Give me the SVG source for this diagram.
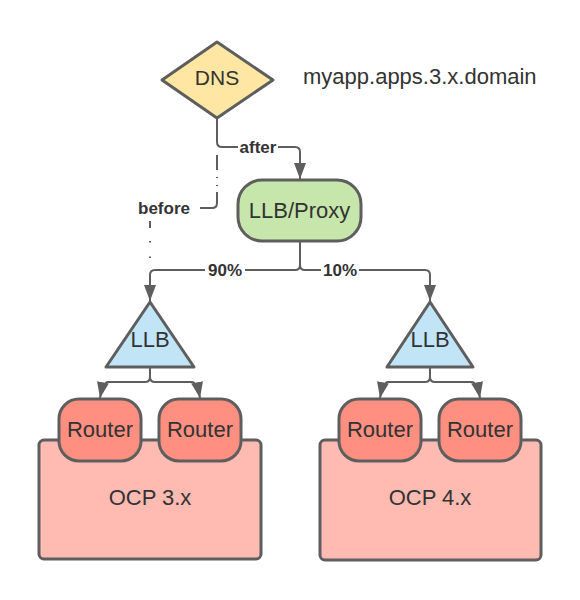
<svg xmlns="http://www.w3.org/2000/svg" width="580" height="600" viewBox="0 0 580 600">
<defs>
<style>
.node{stroke:#5e5e5e;stroke-width:3;stroke-linejoin:round}
.dns{fill:#ffe6a2}
.proxy{fill:#c7e6ab}
.llb{fill:#c1e4f7}
.router{fill:#ff8f80}
.ocp{fill:#ffbbb1}
.t{font-family:"Liberation Sans",Arial,sans-serif;font-size:22px;fill:#333333;text-anchor:middle}
.lbl{font-family:"Liberation Sans",Arial,sans-serif;font-size:17px;font-weight:bold;fill:#333333;text-anchor:middle}
.c{fill:none;stroke:#5e5e5e;stroke-width:2}
.bg{fill:#ffffff}
</style>
<marker id="arr" viewBox="0 0 16 12" refX="16" refY="6" markerWidth="16" markerHeight="12" markerUnits="userSpaceOnUse" orient="auto">
<path d="M0,0 L16,6 L0,12 Z" fill="#5e5e5e"/>
</marker>
</defs>
<rect width="580" height="600" fill="#ffffff"/>

<g id="connectors">
<path class="c" d="M150,221 V270" stroke-dasharray="7 13 1.5 14 1.5 30"/>
<path class="c" d="M217,147 V203 Q217,208 212,208 H200" stroke-dasharray="0 8 15 7 1 7 1 6 40"/>
<path class="c" d="M217,118 V142 Q217,147 222,147 H295 Q300,147 300,152 V179" marker-end="url(#arr)"/>
<path class="c" d="M300,241 V265 Q300,270 295,270 H155 Q150,270 150,275 V301" marker-end="url(#arr)"/>
<path class="c" d="M300,265 Q300,270 305,270 H425 Q430,270 430,275 V301" marker-end="url(#arr)"/>
<path class="c" d="M150,367 V377 Q150,382 145,382 H108 Q103,382 100,398" marker-end="url(#arr)"/>
<path class="c" d="M150,377 Q150,382 155,382 H192 Q197,382 200,398" marker-end="url(#arr)"/>
<path class="c" d="M430,367 V377 Q430,382 425,382 H388 Q383,382 380,398" marker-end="url(#arr)"/>
<path class="c" d="M430,377 Q430,382 435,382 H472 Q477,382 480,398" marker-end="url(#arr)"/>
<rect class="bg" x="238" y="138" width="40" height="18"/>
<text class="lbl" x="258" y="153">after</text>
<rect class="bg" x="134" y="198" width="64" height="22"/>
<text class="lbl" x="164" y="214">before</text>
<rect class="bg" x="205" y="261" width="40" height="18"/>
<text class="lbl" x="225" y="276">90%</text>
<rect class="bg" x="321" y="261" width="38" height="18"/>
<text class="lbl" x="340" y="276">10%</text>
</g>

<g id="dns">
<polygon class="node dns" points="217,42 273,80 217,118 162,80"/>
<text class="t" x="217" y="85" style="font-size:21px">DNS</text>
</g>
<g id="domain-label">
<text class="t" x="303" y="84" style="text-anchor:start">myapp.apps.3.x.domain</text>
</g>
<g id="llb-proxy">
<rect class="node proxy" x="238" y="180" width="123" height="61" rx="24" ry="24"/>
<text class="t" x="299.5" y="218">LLB/Proxy</text>
</g>

<g id="ocp3">
<rect class="node ocp" x="39" y="440" width="222" height="119" rx="5" ry="5"/>
<text class="t" x="150" y="505">OCP 3.x</text>
</g>
<g id="llb-left">
<polygon class="node llb" points="150,302 194,367 106,367"/>
<text class="t" x="150" y="347">LLB</text>
</g>
<g id="router-3a">
<rect class="node router" x="59" y="399" width="82" height="62" rx="20" ry="20"/>
<text class="t" x="100" y="437">Router</text>
</g>
<g id="router-3b">
<rect class="node router" x="159" y="399" width="82" height="62" rx="20" ry="20"/>
<text class="t" x="200" y="437">Router</text>
</g>

<g id="ocp4">
<rect class="node ocp" x="320" y="440" width="221" height="120" rx="5" ry="5"/>
<text class="t" x="430" y="505">OCP 4.x</text>
</g>
<g id="llb-right">
<polygon class="node llb" points="430,302 473,367 387,367"/>
<text class="t" x="430" y="347">LLB</text>
</g>
<g id="router-4a">
<rect class="node router" x="339" y="399" width="82" height="62" rx="20" ry="20"/>
<text class="t" x="380" y="437">Router</text>
</g>
<g id="router-4b">
<rect class="node router" x="439" y="399" width="82" height="62" rx="20" ry="20"/>
<text class="t" x="480" y="437">Router</text>
</g>
</svg>
